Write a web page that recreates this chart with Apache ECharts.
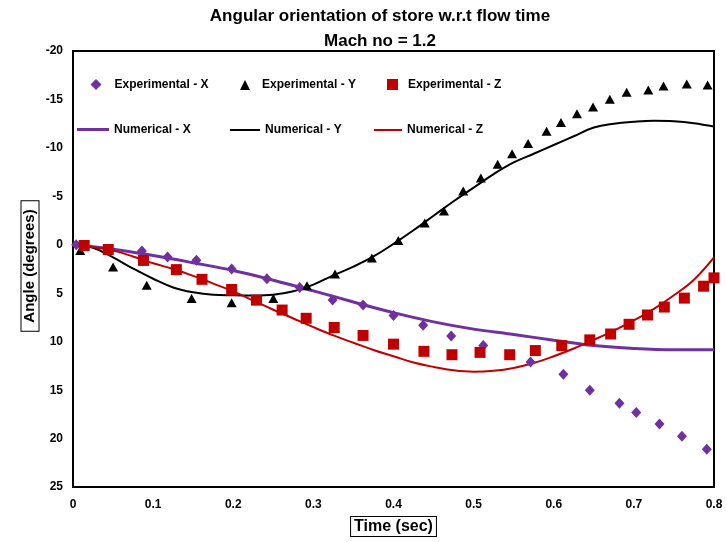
<!DOCTYPE html>
<html>
<head>
<meta charset="utf-8">
<script src="https://cdn.jsdelivr.net/npm/echarts@6/dist/echarts.min.js"></script>
<style>
html,body{margin:0;padding:0;background:#fff;}
#chart{width:727px;height:542px;}
</style>
</head>
<body>
<div id="chart"></div>
<script>
// ---- data ----
var titleText = "Angular orientation of store w.r.t flow time";
var subtitleText = "Mach no = 1.2";
var xAxisName = "Time (sec)";
var yAxisName = "Angle (degrees)";
var seriesNames = ["Experimental - X", "Experimental - Y", "Experimental - Z", "Numerical - X", "Numerical - Y", "Numerical - Z"];

var expXt = [0.004, 0.014, 0.086, 0.118, 0.154, 0.198, 0.242, 0.283, 0.324, 0.362, 0.400, 0.437, 0.472, 0.512, 0.571, 0.612, 0.645, 0.682, 0.703, 0.732, 0.760, 0.791];
var expXv = [0, 0.07, 0.65, 1.26, 1.6, 2.5, 3.5, 4.4, 5.7, 6.2, 7.3, 8.3, 9.4, 10.4, 12.1, 13.35, 15.0, 16.35, 17.3, 18.5, 19.75, 21.1];

var expYt = [0.009, 0.050, 0.092, 0.148, 0.198, 0.250, 0.292, 0.327, 0.373, 0.406, 0.439, 0.463, 0.487, 0.509, 0.530, 0.548, 0.568, 0.591, 0.609, 0.629, 0.649, 0.670, 0.691, 0.718, 0.737, 0.766, 0.792];
var expYv = [0.58, 2.28, 4.17, 5.53, 5.97, 5.53, 4.22, 3.0, 1.35, -0.45, -2.25, -3.48, -5.56, -6.9, -8.32, -9.4, -10.45, -11.71, -12.63, -13.52, -14.21, -15.03, -15.74, -15.98, -16.39, -16.6, -16.5];

var expZt = [0.014, 0.044, 0.088, 0.129, 0.161, 0.198, 0.229, 0.261, 0.291, 0.326, 0.362, 0.400, 0.438, 0.473, 0.508, 0.545, 0.577, 0.610, 0.645, 0.671, 0.694, 0.717, 0.738, 0.763, 0.787, 0.800];
var expZv = [0.07, 0.48, 1.61, 2.56, 3.56, 4.61, 5.71, 6.73, 7.58, 8.53, 9.35, 10.25, 10.99, 11.34, 11.1, 11.34, 10.91, 10.4, 9.81, 9.2, 8.2, 7.24, 6.42, 5.5, 4.27, 3.41];

var numXt = [0, 0.05, 0.1, 0.15, 0.2, 0.25, 0.3, 0.35, 0.4, 0.45, 0.5, 0.55, 0.6, 0.65, 0.7, 0.75, 0.8];
var numXv = [0, 0.45, 1.1, 1.85, 2.65, 3.65, 4.75, 5.9, 7.0, 7.95, 8.7, 9.25, 9.85, 10.4, 10.7, 10.83, 10.83];

var numT = [0, 0.025, 0.05, 0.075, 0.1, 0.125, 0.15, 0.175, 0.2, 0.225, 0.25, 0.275, 0.3, 0.325, 0.35, 0.375, 0.4, 0.425, 0.45, 0.475, 0.5, 0.525, 0.55, 0.575, 0.6, 0.625, 0.65, 0.675, 0.7, 0.725, 0.75, 0.775, 0.8];
var numYv = [0, 0.3, 1.3, 2.45, 3.5, 4.4, 4.9, 5.15, 5.2, 5.22, 5.15, 4.8, 4.1, 3.15, 2.25, 1.2, -0.1, -1.5, -3.0, -4.5, -5.9, -7.3, -8.5, -9.4, -10.3, -11.2, -12.1, -12.5, -12.7, -12.8, -12.75, -12.55, -12.2];
var numZv = [0, 0.25, 0.6, 1.2, 1.9, 2.5, 3.2, 4.0, 4.8, 5.75, 6.7, 7.6, 8.5, 9.35, 10.1, 10.85, 11.5, 12.15, 12.6, 12.95, 13.1, 13.0, 12.7, 12.2, 11.5, 10.7, 9.8, 8.85, 7.8, 6.6, 5.2, 3.6, 1.3];

var xMin = 0, xMax = 0.8, xStep = 0.1;
var yMin = -20, yMax = 25, yStep = 5;

// ---- build ----
function pairs(t, v) { return t.map(function (x, i) { return [x, v[i]]; }); }
var FONT = "'Liberation Sans Narrow', 'Arial Narrow', 'Liberation Sans', sans-serif";
var PURPLE = '#7030A0', RED = '#C00000', BLACK = '#000000';

function legendItem(name, icon, left, top, w, h, pad) {
  var d = { name: name };
  if (icon) d.icon = icon;
  return {
    data: [d], left: left, top: top, padding: 0, itemWidth: w, itemHeight: h,
    orient: 'horizontal', selectedMode: false,
    textStyle: { fontFamily: FONT, fontWeight: 'bold', fontSize: 12, color: '#000', padding: [0, 0, 0, pad] }
  };
}

var chart = echarts.init(document.getElementById('chart'), null, { renderer: 'canvas' });
chart.setOption({
  backgroundColor: '#fff',
  animation: false,
  title: {
    text: titleText + '\n' + subtitleText,
    left: 380, textAlign: 'center', top: 4, padding: 0,
    textStyle: { fontFamily: FONT, fontWeight: 'bold', fontSize: 17, lineHeight: 25, color: '#000' }
  },
  legend: [
    legendItem(seriesNames[0], null, 90.5, 78.5, 11, 11, 8),
    legendItem(seriesNames[1], null, 240, 79, 10, 10, 7),
    legendItem(seriesNames[2], null, 387, 78.5, 11, 11, 5),
    legendItem(seriesNames[3], 'rect', 77, 123.5, 32, 3, 0),
    legendItem(seriesNames[4], 'rect', 230, 124, 30, 2, 0),
    legendItem(seriesNames[5], 'rect', 374, 124, 28, 2, 0)
  ],
  grid: { left: 73, right: 13, top: 51, bottom: 52, show: true, borderColor: '#000', borderWidth: 2, backgroundColor: '#fff' },
  xAxis: {
    type: 'value', min: xMin, max: xMax, interval: xStep,
    name: xAxisName, nameLocation: 'middle', nameGap: 26,
    nameTextStyle: { fontFamily: FONT, fontWeight: 'bold', fontSize: 16, color: '#000', borderColor: '#000', borderWidth: 1, padding: [2, 3, 1, 3], backgroundColor: '#fff', verticalAlign: 'top' },
    axisLine: { show: true, onZero: false, lineStyle: { color: '#000', width: 2 } },
    axisTick: { show: false },
    splitLine: { show: false },
    axisLabel: { margin: 12, fontFamily: FONT, fontWeight: 'bold', fontSize: 12, color: '#000' }
  },
  yAxis: {
    type: 'value', min: yMin, max: yMax, interval: yStep, inverse: true,
    axisLine: { show: true, onZero: false, lineStyle: { color: '#000', width: 2 } },
    axisTick: { show: false },
    splitLine: { show: false },
    axisLabel: { margin: 10, fontFamily: FONT, fontWeight: 'bold', fontSize: 12, color: '#000' }
  },
  graphic: [{
    type: 'text', x: 30, y: 266, rotation: Math.PI / 2, z: 100,
    style: {
      text: yAxisName, fontFamily: FONT, fontWeight: 'bold', fontSize: 15, lineHeight: 17, fill: '#000',
      align: 'center', verticalAlign: 'middle',
      borderColor: '#000', borderWidth: 1, padding: [0, 8, 0, 8], backgroundColor: '#fff'
    }
  }],
  series: [
    { name: seriesNames[3], type: 'line', data: pairs(numXt, numXv), smooth: 0.4, symbol: 'none', lineStyle: { color: PURPLE, width: 3 }, itemStyle: { color: PURPLE }, z: 2 },
    { name: seriesNames[4], type: 'line', data: pairs(numT, numYv), smooth: 0.4, symbol: 'none', lineStyle: { color: BLACK, width: 2 }, itemStyle: { color: BLACK }, z: 2 },
    { name: seriesNames[5], type: 'line', data: pairs(numT, numZv), smooth: 0.4, symbol: 'none', lineStyle: { color: RED, width: 2 }, itemStyle: { color: RED }, z: 2 },
    { name: seriesNames[0], type: 'scatter', data: pairs(expXt, expXv), symbol: 'diamond', symbolSize: [10, 11], itemStyle: { color: PURPLE, opacity: 1 }, z: 3 },
    { name: seriesNames[1], type: 'scatter', data: pairs(expYt, expYv), symbol: 'triangle', symbolSize: [10, 9], itemStyle: { color: BLACK, opacity: 1 }, z: 3 },
    { name: seriesNames[2], type: 'scatter', data: pairs(expZt, expZv), symbol: 'rect', symbolSize: 11, itemStyle: { color: RED, opacity: 1 }, z: 3 }
  ]
});
</script>
</body>
</html>
